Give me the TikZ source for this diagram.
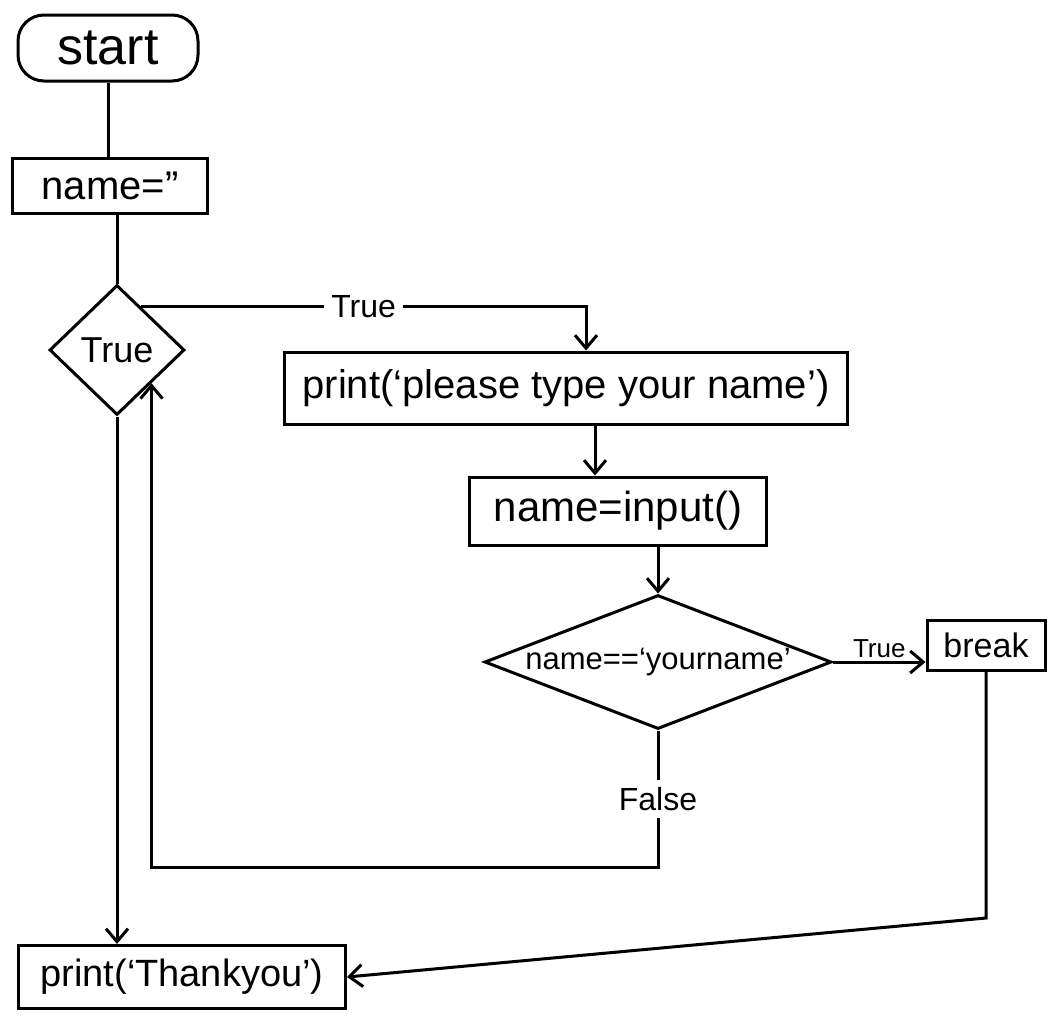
\documentclass[tikz,border=0pt]{standalone}
\usepackage{fontspec}
\setmainfont{Liberation Sans}
\usetikzlibrary{shapes.geometric,arrows.meta,calc}
\newcommand\fsz[1]{\fontsize{#1}{#1}\selectfont}
\begin{document}
\begin{tikzpicture}[x=1pt,y=-1pt,line width=3pt,
  box/.style={draw, rectangle, inner sep=0pt},
  dec/.style={draw, diamond, inner sep=0pt},
  arr/.style={-{Straight Barb[length=13pt,width=22pt]}},
  lab/.style={fill=white, inner sep=7pt}]
\fill[white] (0,0) rectangle (1056,1023);
\useasboundingbox (0,0) rectangle (1056,1023);

% nodes
\node[draw, rounded corners=26pt, minimum width=180pt, minimum height=66pt, font=\fsz{52}] (st) at (108,48) {start};
\node[box, minimum width=195pt, minimum height=55pt, font=\fsz{40}] (nm) at (110,186) {name=''};
\node[dec, minimum width=135pt, minimum height=130pt, font=\fsz{36}] (d1) at (117,350) {True};
\node[box, minimum width=563pt, minimum height=72pt, font=\fsz{40}] (pb) at (566,388) {print(`please type your name')};
\node[box, minimum width=297pt, minimum height=68pt, font=\fsz{42}] (ib) at (618,511) {name=input()};
\node[dec, aspect=2.6, minimum width=347pt, minimum height=134pt, font=\fsz{31}] (d2) at (658,662) {name==`yourname'};
\node[box, minimum width=118pt, minimum height=50pt, font=\fsz{34}] (bk) at (986,645) {break};
\node[box, minimum width=327pt, minimum height=63pt, font=\fsz{38}] (tb) at (182,977) {print(`Thankyou')};

% helper coordinates
\coordinate (t1) at ($(d1.north)!0.35!(d1.east)$);
\coordinate (lp) at (0,867);
\coordinate (lq) at (0,918);

% connectors
\draw (st.south) -- (st.south |- nm.north);
\draw (d1.north |- nm.south) -- (d1.north);
\draw[arr] (t1) -| node[lab, pos=0.25, font=\fsz{32}] {True} ([xshift=20pt]pb.north);
\draw[arr] ([xshift=29pt]pb.south) -- ([xshift=29pt]pb.south |- ib.north);
\draw[arr] (d2.north |- ib.south) -- (d2.north);
\draw[arr] (d2.east) -- node[above, inner sep=3pt, font=\fsz{26}] {True} (d2.east -| bk.west);
\draw[arr] (d2.south) -- node[lab, font=\fsz{32}] {False} (d2.south |- lp) -| (d1.south east);
\draw[arr] (d1.south) -- (d1.south |- tb.north);
\draw[arr] (bk.south) -- (bk.south |- lq) -- (tb.east);
\end{tikzpicture}
\end{document}
